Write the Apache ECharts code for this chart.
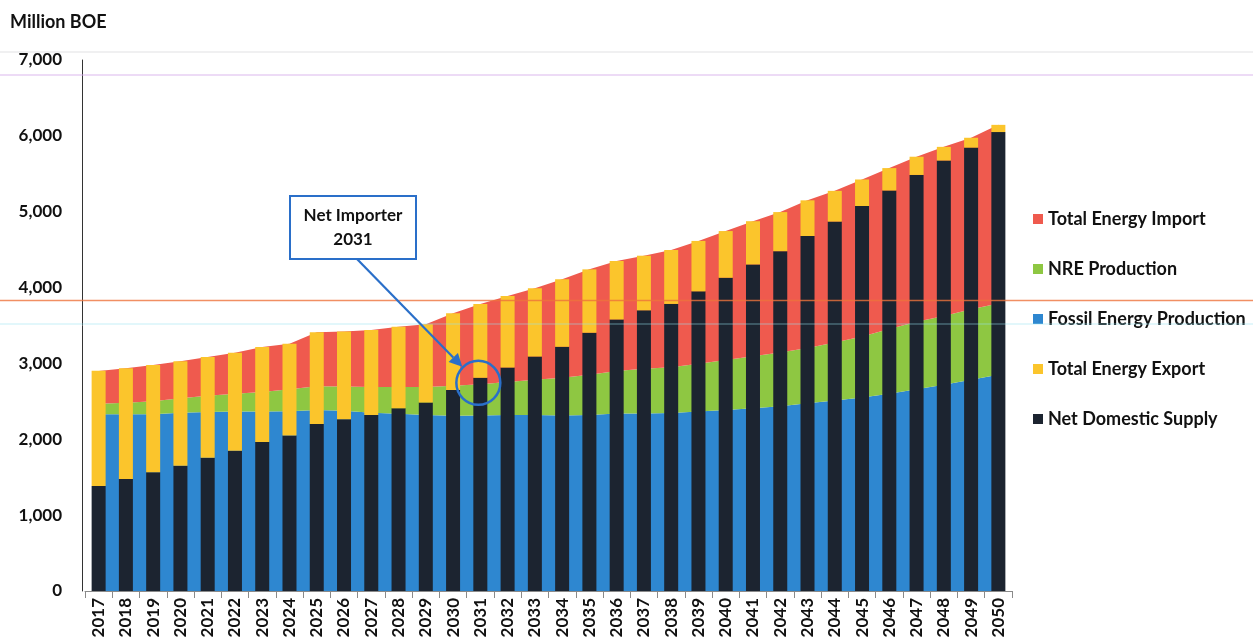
<!DOCTYPE html>
<html>
<head>
<meta charset="utf-8">
<script src="https://cdn.jsdelivr.net/npm/echarts/dist/echarts.min.js"></script>
<style>
  html, body { margin: 0; padding: 0; background: #ffffff; }
  #chart { width: 1253px; height: 643px; }
</style>
</head>
<body>
<div id="chart"></div>
<script>
// ---- Data (Million BOE) ----
const years = ['2017','2018','2019','2020','2021','2022','2023','2024','2025','2026','2027','2028','2029','2030','2031','2032','2033','2034','2035','2036','2037','2038','2039','2040','2041','2042','2043','2044','2045','2046','2047','2048','2049','2050'];
const fossilProduction = [2330,2330,2330,2350,2360,2365,2365,2370,2385,2375,2350,2335,2320,2310,2315,2320,2320,2315,2320,2340,2340,2345,2365,2385,2410,2435,2475,2510,2550,2600,2660,2720,2785,2850];
const nreProduction = [140,150,170,190,215,235,260,290,315,320,340,355,370,395,410,435,465,495,530,560,590,605,630,660,685,710,730,765,805,855,890,905,930,940];
const totalImport = [430,455,480,490,510,540,590,600,710,725,750,795,825,955,1060,1135,1205,1300,1390,1450,1490,1545,1620,1700,1780,1850,1945,2000,2070,2120,2175,2230,2260,2355];
const netDomesticSupply = [1385,1475,1565,1650,1755,1850,1965,2050,2200,2265,2320,2410,2485,2650,2810,2945,3090,3220,3405,3580,3700,3785,3950,4130,4305,4480,4680,4870,5075,5280,5485,5675,5845,6050];
const totalExport = [1520,1460,1415,1380,1330,1290,1250,1210,1210,1155,1120,1075,1030,1010,975,945,900,890,835,770,720,710,665,615,570,515,470,405,350,295,240,180,130,95];
const yMin = 0, yMax = 7000, yStep = 1000;
const unitLabel = 'Million BOE';
const calloutLines = ['Net Importer', '2031'];
const calloutYear = '2031';

(function () {
const FONT = 'Lato, "Open Sans", sans-serif';
const C = {
  imp: '#ef5a4e', nre: '#8ec742', fossil: '#2e87d0', exp: '#fbc52c', net: '#1c2430', callout: '#2a6fc9'
};

const chart = echarts.init(document.getElementById('chart'), null, { renderer: 'canvas' });

const areaSeries = (name, data, color) => ({
  name, type: 'line', stack: 'supply', data,
  symbol: 'none', smooth: false, z: 2,
  lineStyle: { width: 0, color },
  itemStyle: { color },
  areaStyle: { color, opacity: 1 },
  emphasis: { disabled: true }
});
const barSeries = (name, data, color) => ({
  name, type: 'bar', stack: 'use', data, barWidth: 14, z: 3,
  itemStyle: { color },
  emphasis: { disabled: true }
});

chart.setOption({
  animation: false,
  backgroundColor: '#ffffff',
  title: {
    text: unitLabel, left: 5, top: 8,
    textStyle: { fontFamily: FONT, fontWeight: 'bold', fontSize: 18, color: '#111' }
  },
  legend: {
    orient: 'vertical', left: 1028, top: 204,
    icon: 'rect', itemWidth: 10, itemHeight: 10, itemGap: 30,
    textStyle: { fontFamily: FONT, fontWeight: 'bold', fontSize: 18, color: '#111', lineHeight: 20 },
    data: ['Total Energy Import', 'NRE Production', 'Fossil Energy Production', 'Total Energy Export', 'Net Domestic Supply']
  },
  grid: { left: 85, right: 241, top: 60, bottom: 52, containLabel: false },
  xAxis: {
    type: 'category', data: years, boundaryGap: true,
    axisLine: { lineStyle: { color: '#8a8a8a', width: 1 } },
    axisTick: { show: true, length: 7, lineStyle: { color: '#8a8a8a' } },
    axisLabel: { rotate: 90, margin: 7, fontFamily: FONT, fontWeight: 'bold', fontSize: 17, color: '#111', interval: 0 }
  },
  yAxis: {
    type: 'value', min: yMin, max: yMax, interval: yStep, offset: 3,
    splitLine: { show: false },
    axisLine: { show: true, lineStyle: { color: '#333', width: 1 } },
    axisTick: { show: false },
    axisLabel: {
      margin: 20, fontFamily: FONT, fontWeight: 'bold', fontSize: 17, color: '#111',
      formatter: v => v.toLocaleString('en-US')
    }
  },
  series: [
    areaSeries('Fossil Energy Production', fossilProduction, C.fossil),
    areaSeries('NRE Production', nreProduction, C.nre),
    areaSeries('Total Energy Import', totalImport, C.imp),
    barSeries('Net Domestic Supply', netDomesticSupply, C.net),
    barSeries('Total Energy Export', totalExport, C.exp)
  ]
});

// ---- Callout anchored to the 2031 bar through the chart's own scales ----
const idx = years.indexOf(calloutYear);
const barTop = chart.convertToPixel({ xAxisIndex: 0, yAxisIndex: 0 }, [calloutYear, netDomesticSupply[idx]]);
const cc = [barTop[0] - 2, barTop[1] + 5];
const r = 22;
const tip = [cc[0] - 16, cc[1] - 16];
const box = { x: 290, y: 196, w: 126, h: 63 };
const start = [box.x + 67, box.y + box.h];
const dx = tip[0] - start[0], dy = tip[1] - start[1];
const len = Math.hypot(dx, dy), ux = dx / len, uy = dy / len;
const hl = 13, hw = 6.5;
const base = [tip[0] - ux * hl, tip[1] - uy * hl];
const W = 1253;

chart.setOption({
  graphic: [
    { type: 'line', z: 100, silent: true, shape: { x1: 0, y1: 52, x2: W, y2: 52 }, style: { stroke: 'rgba(200,200,205,0.55)', lineWidth: 1 } },
    { type: 'line', z: 100, silent: true, shape: { x1: 0, y1: 75, x2: W, y2: 75 }, style: { stroke: 'rgba(215,175,235,0.6)', lineWidth: 1.5 } },
    { type: 'line', z: 100, silent: true, shape: { x1: 0, y1: 300.5, x2: W, y2: 300.5 }, style: { stroke: 'rgba(238,115,60,0.8)', lineWidth: 1.5 } },
    { type: 'line', z: 100, silent: true, shape: { x1: 0, y1: 324, x2: W, y2: 324 }, style: { stroke: 'rgba(150,225,240,0.55)', lineWidth: 1.2 } },
    { type: 'rect', z: 110, shape: { x: box.x, y: box.y, width: box.w, height: box.h },
      style: { fill: '#ffffff', stroke: C.callout, lineWidth: 2 } },
    { type: 'text', z: 111, x: box.x + box.w / 2, y: box.y + 20,
      style: { text: calloutLines[0], fill: '#111', font: 'bold 17px ' + FONT, textAlign: 'center', textVerticalAlign: 'middle' } },
    { type: 'text', z: 111, x: box.x + box.w / 2, y: box.y + 44,
      style: { text: calloutLines[1], fill: '#111', font: 'bold 17px ' + FONT, textAlign: 'center', textVerticalAlign: 'middle' } },
    { type: 'line', z: 110, shape: { x1: start[0], y1: start[1], x2: base[0], y2: base[1] },
      style: { stroke: C.callout, lineWidth: 2.2 } },
    { type: 'polygon', z: 110, shape: { points: [tip, [base[0] - uy * hw, base[1] + ux * hw], [base[0] + uy * hw, base[1] - ux * hw]] },
      style: { fill: C.callout } },
    { type: 'circle', z: 110, shape: { cx: cc[0], cy: cc[1], r: r },
      style: { fill: 'none', stroke: C.callout, lineWidth: 2.5 } }
  ]
});
})();
</script>
</body>
</html>
